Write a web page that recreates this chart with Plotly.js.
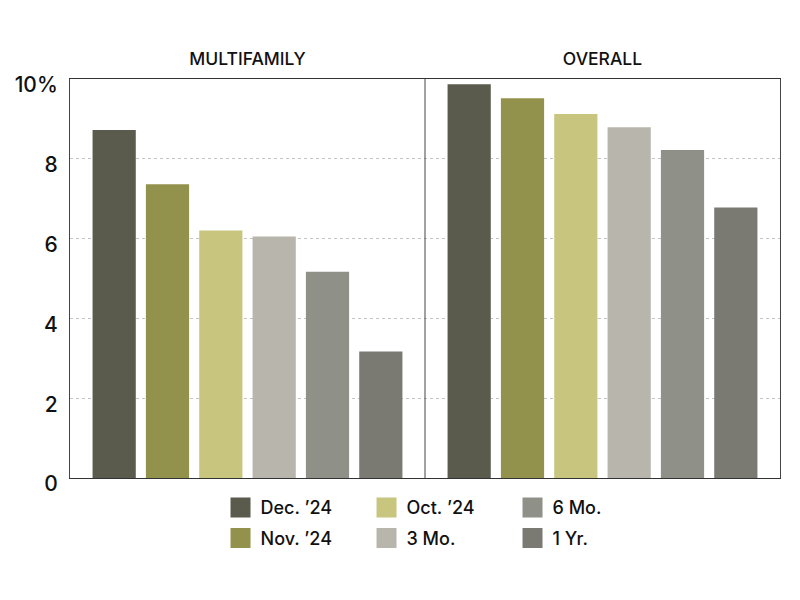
<!DOCTYPE html>
<html>
<head>
<meta charset="utf-8">
<script src="https://cdn.plot.ly/plotly-3.0.1.min.js"></script>
<style>body{margin:0;background:#fff}#chart{width:800px;height:600px}</style>
</head>
<body>
<div id="chart"></div>
<script>
const categories = ['MULTIFAMILY', 'OVERALL'];
const seriesNames = ['Dec. \u201924', 'Nov. \u201924', 'Oct. \u201924', '3 Mo.', '6 Mo.', '1 Yr.'];
const dec24 = [8.72, 9.87];
const nov24 = [7.36, 9.52];
const oct24 = [6.20, 9.12];
const mo3 = [6.05, 8.79];
const mo6 = [5.17, 8.22];
const yr1 = [3.17, 6.78];
const yTickVals = [0, 2, 4, 6, 8, 10];
const yTickText = ['0', '2', '4', '6', '8', '10%'];

const seriesValues = [dec24, nov24, oct24, mo3, mo6, yr1];
const colors = ['#5a5b4d', '#93924c', '#c8c57f', '#b8b6ac', '#8f9087', '#7a7a73'];
// legend layout: column-major, two rows
const legendRow = ['legend', 'legend2', 'legend', 'legend2', 'legend', 'legend2'];

const FONT = 'Inter, Liberation Sans, Arial, sans-serif';
const W = 500;

const bars = seriesNames.map((name, i) => ({
  type: 'bar',
  name: name,
  x: categories,
  y: seriesValues[i],
  marker: {color: colors[i], line: {width: 0}},
  showlegend: false,
  hoverinfo: 'skip'
}));

// legend swatches (null values: nothing drawn on the plot, legend entries only)
const swatches = seriesNames.map((name, i) => ({
  type: 'scatter',
  mode: 'markers',
  name: name,
  x: [categories[0]], y: [null],
  legend: legendRow[i],
  marker: {symbol: 'square', size: 16, color: colors[i], line: {color: colors[i], width: 4}},
  showlegend: true,
  hoverinfo: 'skip'
}));

const legendBase = {
  orientation: 'h',
  x: 0.212, xanchor: 'left',
  yanchor: 'middle',
  entrywidth: 101, entrywidthmode: 'pixels',
  itemsizing: 'trace',
  font: {size: 18, family: FONT, color: '#111', weight: W},
  traceorder: 'normal',
  bgcolor: 'rgba(0,0,0,0)'
};

const layout = {
  width: 800, height: 600,
  margin: {l: 70, r: 20, t: 79, b: 122},
  paper_bgcolor: '#fff', plot_bgcolor: '#fff',
  font: {family: FONT, color: '#111'},
  barmode: 'group',
  bargap: 0.0986,
  bargroupgap: 0.19,
  showlegend: true,
  legend: Object.assign({}, legendBase, {y: -0.0744}),
  legend2: Object.assign({}, legendBase, {y: -0.151}),
  xaxis: {
    side: 'top',
    type: 'category',
    showline: true, linecolor: '#333', linewidth: 1, mirror: true,
    showgrid: false, ticks: '',
    tickfont: {size: 17.5, family: FONT, color: '#111', weight: W},
    ticklabelstandoff: 6,
    range: [-0.5, 1.5]
  },
  yaxis: {
    range: [0, 10],
    tickvals: yTickVals, ticktext: yTickText,
    tickfont: {size: 21, family: FONT, color: '#111', weight: W},
    showline: true, linecolor: '#444', linewidth: 1, mirror: true,
    showgrid: true, gridcolor: '#c4c4c4', griddash: 'dot', gridwidth: 1,
    zeroline: false, ticks: '',
    ticklabelstandoff: 7,
    ticklabelshift: 6
  },
  shapes: [{
    type: 'line', xref: 'x', yref: 'paper',
    x0: 0.5, x1: 0.5, y0: 0, y1: 1,
    line: {color: '#444', width: 1}
  }]
};

Plotly.newPlot('chart', bars.concat(swatches), layout, {displayModeBar: false, staticPlot: true});
</script>
</body>
</html>
